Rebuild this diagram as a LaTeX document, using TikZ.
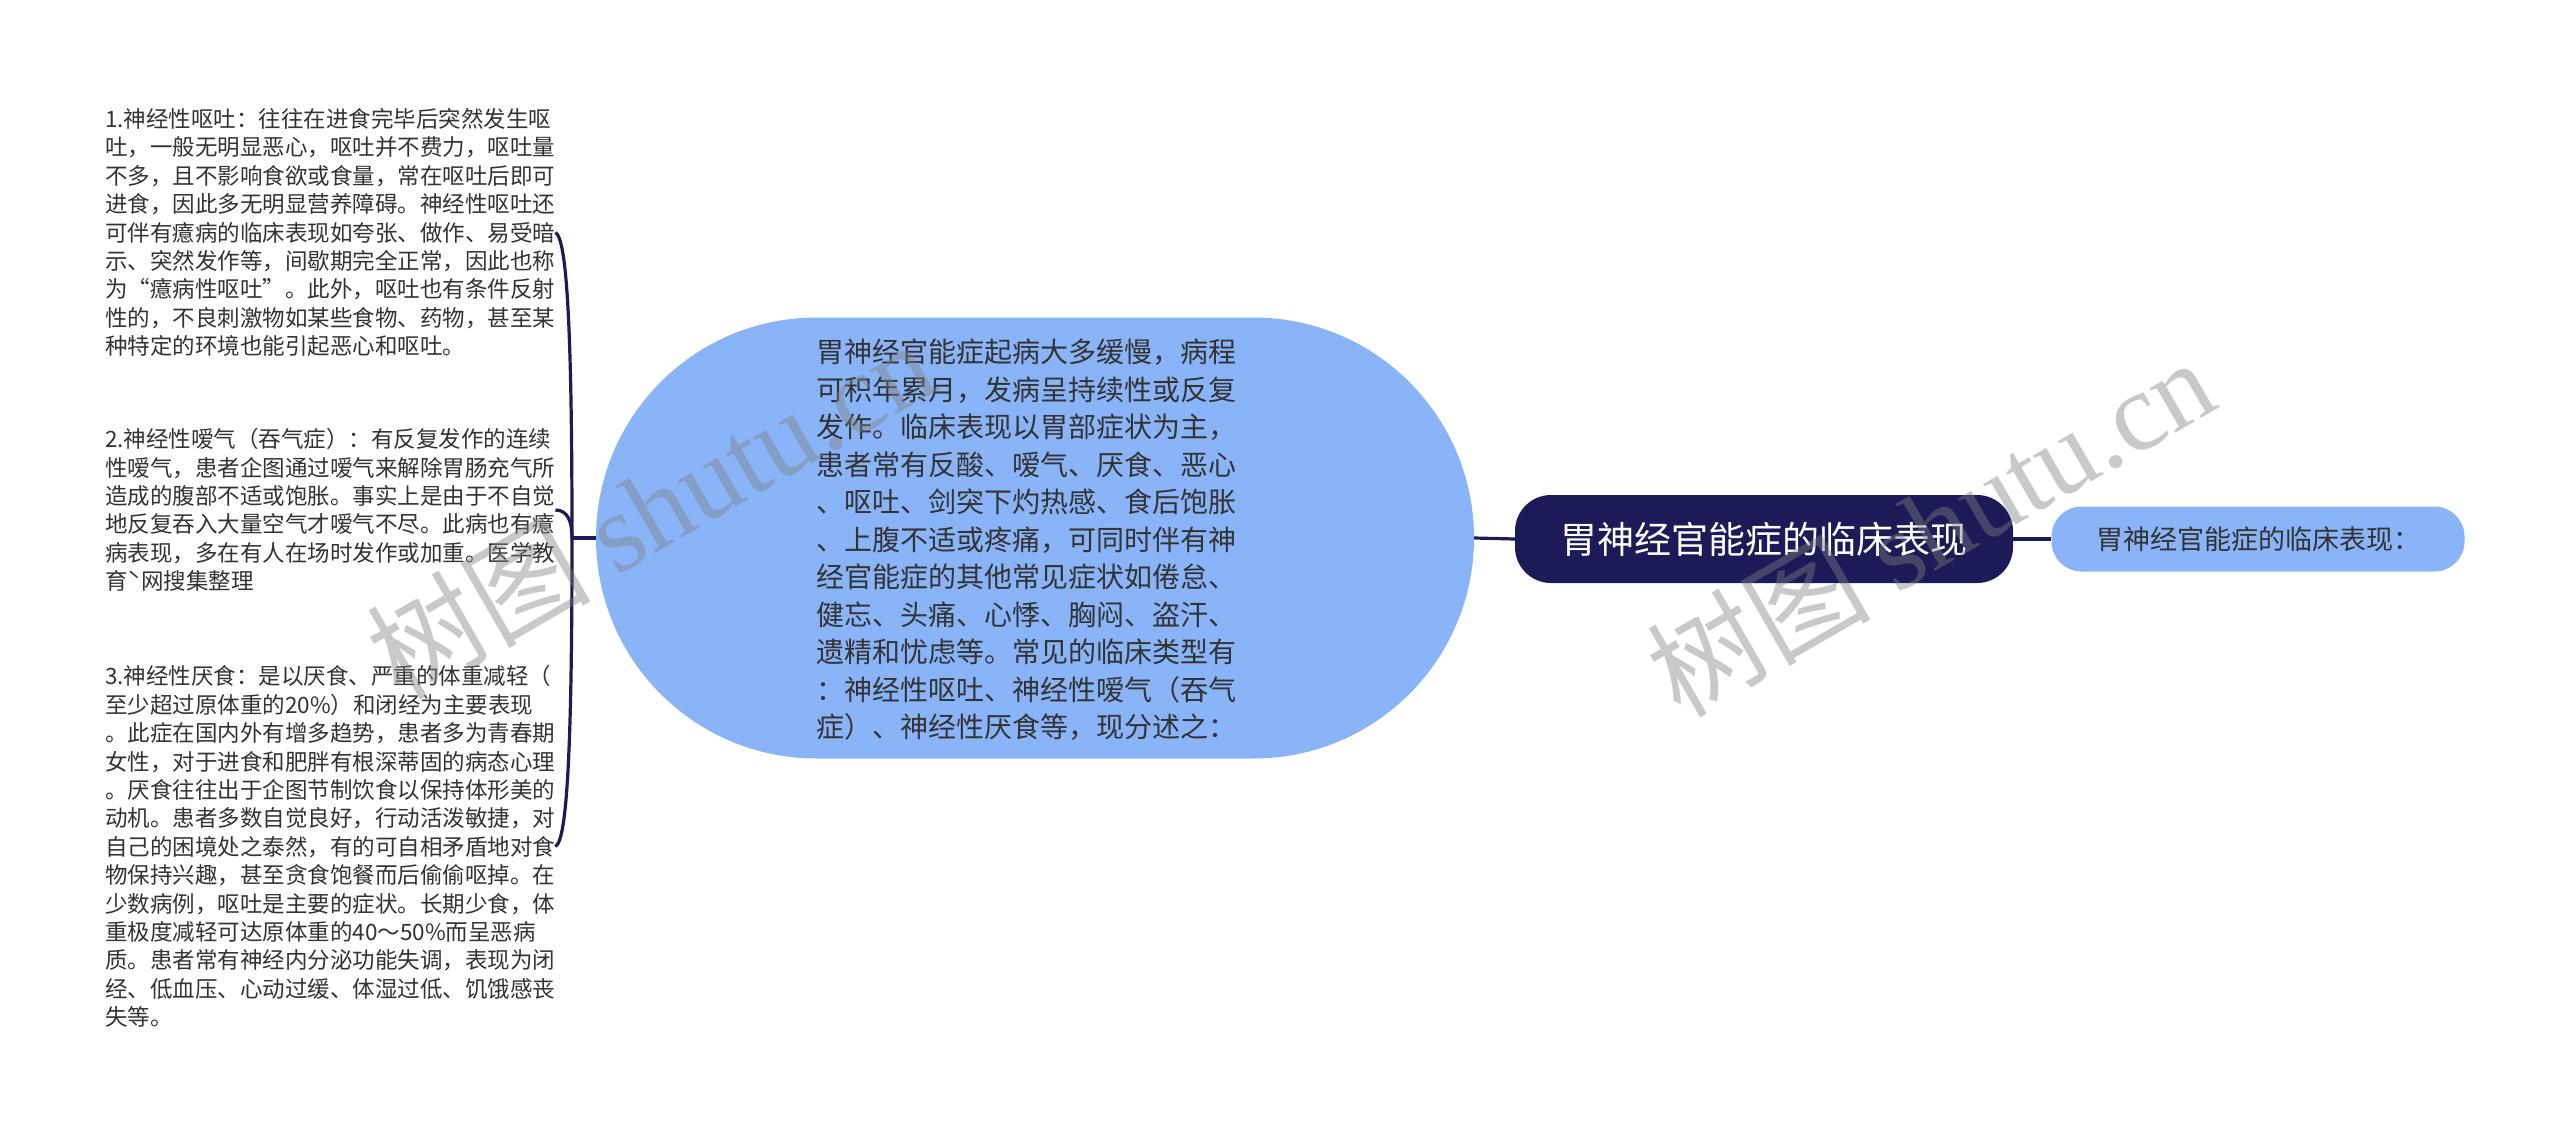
\documentclass[tikz,border=0pt]{standalone}
\usepackage{fontspec}
\setmainfont{Noto Sans CJK SC}
\newfontfamily\wmlatin{Liberation Serif}
\usetikzlibrary{shapes.misc}
\definecolor{navy}{HTML}{1C1B57}
\definecolor{lblue}{HTML}{8AB4F8}
\definecolor{txt}{HTML}{333333}
\begin{document}
\begin{tikzpicture}[x=1pt,y=-1pt,
  conn/.style={draw=navy, line width=3.2pt},
  itemtext/.style={anchor=west, inner sep=0pt, text width=450pt, align=left, text=txt, font=\fontsize{22.5}{28.4}\selectfont},
  centertext/.style={inner sep=0pt, align=left, text=txt, font=\fontsize{28}{37.5}\selectfont},
  wm/.style={rotate=30, text=gray, text opacity=0.42, inner sep=0pt, font=\fontsize{112}{120}\selectfont}
]
\fill[white] (0,0) rectangle (2560,1135);
\useasboundingbox (0,0) rectangle (2560,1135);

% centre shape
\node[rounded rectangle, fill=lblue, minimum width=878pt, minimum height=441pt, inner sep=0pt] (c) at (1035,538) {};
\node[centertext] (ct) at (1026,540) {胃神经官能症起病大多缓慢，病程\\
可积年累月，发病呈持续性或反复\\
发作。临床表现以胃部症状为主，\\
患者常有反酸、嗳气、厌食、恶心\\
、呕吐、剑突下灼热感、食后饱胀\\
、上腹不适或疼痛，可同时伴有神\\
经官能症的其他常见症状如倦怠、\\
健忘、头痛、心悸、胸闷、盗汗、\\
遗精和忧虑等。常见的临床类型有\\
：神经性呕吐、神经性嗳气（吞气\\
症）、神经性厌食等，现分述之：};

% main topic
\node[rectangle, rounded corners=36pt, fill=navy, minimum width=498pt, minimum height=88pt, inner sep=0pt, text=white, font=\fontsize{37}{44}\selectfont] (m) at (1764,539) {胃神经官能症的临床表现};

% right node
\node[rectangle, rounded corners=30pt, fill=lblue, minimum width=413pt, minimum height=65pt, inner sep=0pt, text=txt, font=\fontsize{27}{32}\selectfont] (r) at (2258,539) {胃神经官能症的临床表现：};

% left items
\node[itemtext] (i1) at (105,232.6) {1.神经性呕吐：往往在进食完毕后突然发生呕\\
吐，一般无明显恶心，呕吐并不费力，呕吐量\\
不多，且不影响食欲或食量，常在呕吐后即可\\
进食，因此多无明显营养障碍。神经性呕吐还\\
可伴有癔病的临床表现如夸张、做作、易受暗\\
示、突然发作等，间歇期完全正常，因此也称\\
为“癔病性呕吐”。此外，呕吐也有条件反射\\
性的，不良刺激物如某些食物、药物，甚至某\\
种特定的环境也能引起恶心和呕吐。};

\node[itemtext] (i2) at (105,510) {2.神经性嗳气（吞气症）：有反复发作的连续\\
性嗳气，患者企图通过嗳气来解除胃肠充气所\\
造成的腹部不适或饱胀。事实上是由于不自觉\\
地反复吞入大量空气才嗳气不尽。此病也有癔\\
病表现，多在有人在场时发作或加重。医学教\\
育ˋ网搜集整理};

\node[itemtext] (i3) at (105,846.5) {3.神经性厌食：是以厌食、严重的体重减轻（\\
至少超过原体重的20\%）和闭经为主要表现\\
。此症在国内外有增多趋势，患者多为青春期\\
女性，对于进食和肥胖有根深蒂固的病态心理\\
。厌食往往出于企图节制饮食以保持体形美的\\
动机。患者多数自觉良好，行动活泼敏捷，对\\
自己的困境处之泰然，有的可自相矛盾地对食\\
物保持兴趣，甚至贪食饱餐而后偷偷呕掉。在\\
少数病例，呕吐是主要的症状。长期少食，体\\
重极度减轻可达原体重的40～50\%而呈恶病\\
质。患者常有神经内分泌功能失调，表现为闭\\
经、低血压、心动过缓、体湿过低、饥饿感丧\\
失等。};

% connectors
\coordinate (tr) at (572,538);
\draw[conn] (c.west) -- (tr);
\draw[conn] (tr) .. controls (572,330) and (567,238) .. (i1.east);
\draw[conn] (tr) .. controls (572,522) and (568,510) .. (i2.east);
\draw[conn] (tr) .. controls (572,750) and (567,841) .. (i3.east);
\draw[conn] (c.east) -- (m.west);
\draw[conn] (m.east) -- (r.west);

% watermarks
\node[wm] (w1) at (650,508) {树图 {\wmlatin shutu.cn}};
\node[wm] (w2) at (1930,526) {树图 {\wmlatin shutu.cn}};
\end{tikzpicture}
\end{document}
